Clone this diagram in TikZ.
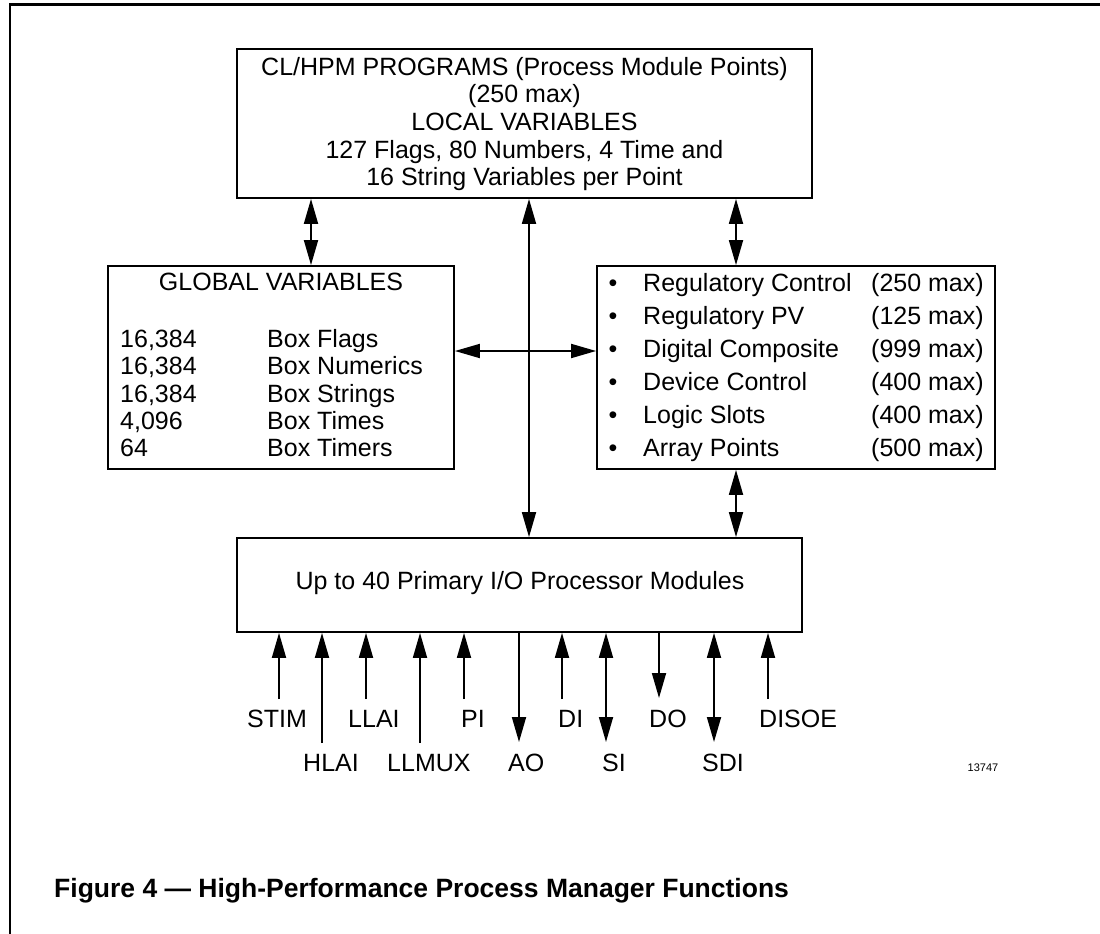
\documentclass[tikz,border=0pt]{standalone}
\usepackage{fontspec}
\setmainfont{Liberation Sans}
\newfontfamily\plainfont{Liberation Sans}
\usetikzlibrary{arrows.meta}
\begin{document}
\begin{tikzpicture}[x=1pt,y=-1pt,
  box/.style={draw, line width=1.8pt, rectangle, inner sep=0pt},
  big/.style={inner sep=0pt, font=\fontsize{25}{28}\selectfont},
  mid/.style={inner sep=0pt, font=\fontsize{25}{28}\selectfont},
  conn/.style={line width=1.8pt},
  >={Triangle[length=25pt,width=14pt]}]
\useasboundingbox (0,0) rectangle (1100,934);
% frame
\draw[line width=2.6pt] (10,934) -- (10,4.5) -- (1100,4.5);

% boxes
\node[box, minimum width=575pt, minimum height=149pt] (top) at (524.5,123.5) {};
\node[box, minimum width=346pt, minimum height=203pt] (glob) at (281,367.5) {};
\node[box, minimum width=398pt, minimum height=203pt] (right) at (796,367.5) {};
\node[box, minimum width=565pt, minimum height=94pt] (io) at (519.5,585) {};

% top text
\node[big, anchor=base] (t1) at (524.5,75) {CL/HPM PROGRAMS (Process Module Points)};
\node[big, anchor=base] (t2) at (524.5,102.7) {(250 max)};
\node[big, anchor=base] (t3) at (524.5,130.4) {LOCAL VARIABLES};
\node[big, anchor=base] (t4) at (524.5,158.1) {127 Flags, 80 Numbers, 4 Time and};
\node[big, anchor=base] (t5) at (524.5,185.8) {16 String Variables per Point};

% global text
\node[mid, anchor=base] (g0) at (281,290.5) {GLOBAL VARIABLES};
\node[mid, anchor=base west] (gn1) at (120,347) {16,384};
\node[mid, anchor=base west] (gl1) at (267,347) {Box Flags};
\node[mid, anchor=base west] (gn2) at (120,374.5) {16,384};
\node[mid, anchor=base west] (gl2) at (267,374.5) {Box Numerics};
\node[mid, anchor=base west] (gn3) at (120,402) {16,384};
\node[mid, anchor=base west] (gl3) at (267,402) {Box Strings};
\node[mid, anchor=base west] (gn4) at (120,429) {4,096};
\node[mid, anchor=base west] (gl4) at (267,429) {Box Times};
\node[mid, anchor=base west] (gn5) at (120,456) {64};
\node[mid, anchor=base west] (gl5) at (267,456) {Box Timers};

% right box text
\foreach \i/\yy/\lab/\mx in {1/291/Regulatory Control/(250 max),
                             2/324/Regulatory PV/(125 max),
                             3/357/Digital Composite/(999 max),
                             4/390/Device Control/(400 max),
                             5/423/Logic Slots/(400 max),
                             6/456/Array Points/(500 max)}{
  \node[mid, anchor=base] (rb\i) at (613,\yy) {•};
  \node[mid, anchor=base west] (rl\i) at (643,\yy) {\lab};
  \node[mid, anchor=base west] (rm\i) at (871,\yy) {\mx};
}

% io text
\node[big] (iot) at (520,583) {Up to 40 Primary I/O Processor Modules};

% connectors between boxes
\coordinate (x1) at (311,0);
\coordinate (x2) at (736,0);
\coordinate (x3) at (529,0);
\coordinate (hy) at (0,351);
\draw[conn,<->] (x1 |- top.south) -- (x1 |- glob.north);
\draw[conn,<->] (x2 |- top.south) -- (x2 |- right.north);
\draw[conn,<->] (x3 |- top.south) -- (x3 |- io.north);
\draw[conn,<->] (glob.east |- hy) -- (right.west |- hy);
\draw[conn,<->] (x2 |- right.south) -- (x2 |- io.north);

% I/O arrows
\coordinate (cSTIM) at (279,699);
\coordinate (cHLAI) at (322,743);
\coordinate (cLLAI) at (366,699);
\coordinate (cLLMUX) at (420,743);
\coordinate (cPI) at (464,699);
\coordinate (cAO) at (519,742);
\coordinate (cDI) at (562,699);
\coordinate (cSI) at (606,742);
\coordinate (cDO) at (659,698);
\coordinate (cSDI) at (714,742);
\coordinate (cDISOE) at (768,699);
\draw[conn,->] (cSTIM) -- (cSTIM |- io.south);
\draw[conn,->] (cHLAI) -- (cHLAI |- io.south);
\draw[conn,->] (cLLAI) -- (cLLAI |- io.south);
\draw[conn,->] (cLLMUX) -- (cLLMUX |- io.south);
\draw[conn,->] (cPI) -- (cPI |- io.south);
\draw[conn,->] (cAO |- io.south) -- (cAO);
\draw[conn,->] (cDI) -- (cDI |- io.south);
\draw[conn,<->] (cSI |- io.south) -- (cSI);
\draw[conn,->] (cDO |- io.south) -- (cDO);
\draw[conn,<->] (cSDI |- io.south) -- (cSDI);
\draw[conn,->] (cDISOE) -- (cDISOE |- io.south);

% I/O labels
\node[big, anchor=base west] (lSTIM) at (247,727.7) {STIM};
\node[big, anchor=base west] (lLLAI) at (348,727.7) {LLAI};
\node[big, anchor=base west] (lPI) at (461,727.7) {PI};
\node[big, anchor=base west] (lDI) at (558,727.7) {DI};
\node[big, anchor=base west] (lDO) at (649,727.7) {DO};
\node[big, anchor=base west] (lDISOE) at (759,727.7) {DISOE};
\node[big, anchor=base west] (lHLAI) at (303,771.5) {HLAI};
\node[big, anchor=base west] (lLLMUX) at (387,771.5) {LLMUX};
\node[big, anchor=base west] (lAO) at (508,771.5) {AO};
\node[big, anchor=base west] (lSI) at (602,771.5) {SI};
\node[big, anchor=base west] (lSDI) at (702,771.5) {SDI};

% figure number
\node[inner sep=0pt, font=\plainfont\fontsize{11}{13}\selectfont] (num) at (983,768) {13747};

% caption
\node[inner sep=0pt, anchor=base west, font=\fontsize{26.5}{30}\selectfont\bfseries] (cap) at (54,897) {Figure 4 — High-Performance Process Manager Functions};
\end{tikzpicture}
\end{document}
